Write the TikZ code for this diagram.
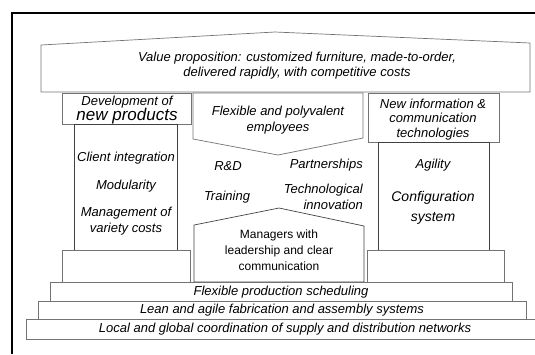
\documentclass[tikz,border=0pt]{standalone}
\usepackage{fontspec}
\setmainfont{Liberation Sans}
\begin{document}
\begin{tikzpicture}[x=1pt,y=-1pt,
  shapeline/.style={draw=black!55,line width=0.7pt},
  colline/.style={draw=black!75,line width=0.7pt},
  txt/.style={font=\fontsize{13}{15.5}\selectfont\itshape,align=center,inner sep=0pt},
  bigtxt/.style={font=\fontsize{14}{17}\selectfont\itshape,align=center,inner sep=0pt},
  uptxt/.style={font=\fontsize{12}{16}\selectfont,align=center,inner sep=0pt}]
\useasboundingbox (0,0) rectangle (535,354);
% frame
\draw[line width=2.5pt] (12,354) -- (12,13) -- (535,13);
% roof
\draw[shapeline] (41,92) -- (41,45) -- (275,32) -- (530,43) -- (530,92) -- cycle;
% left pillar
\draw[shapeline] (62,93) rectangle (191,124);
\draw[colline] (74,124) rectangle (177,250);
\draw[shapeline] (62,250) rectangle (190,282);
% right pillar
\draw[shapeline] (368,93) rectangle (499,142);
\draw[colline] (378,142) rectangle (489,250);
\draw[shapeline] (367,250) rectangle (504,282);
% central pentagons
\draw[shapeline] (193,93) -- (363,93) -- (363,138) -- (278,155) -- (193,139) -- cycle;
\draw[colline] (194,282) -- (194,225) -- (279,208) -- (364,226) -- (364,282) -- cycle;
% steps
\draw[shapeline] (50,282) rectangle (512,301);
\draw[shapeline] (38,301) rectangle (526,319);
\draw[shapeline] (26,319) rectangle (545,339);
% texts
\node[txt] (vp) at (297,65.5) {Value proposition: customized furniture, made-to-order,\\delivered rapidly, with competitive costs};
\node[txt] (dev) at (127,102) {Development of};
\node[bigtxt,font=\fontsize{17}{17}\selectfont\itshape] (np) at (127,116) {new products};
\node[txt,font=\fontsize{13}{16}\selectfont\itshape] (flex) at (278,120) {Flexible and polyvalent\\employees};
\node[txt,font=\fontsize{13}{14.5}\selectfont\itshape] (ict) at (433,119.5) {New information \&\\communication\\technologies};
\node[txt] (ci) at (126,158) {Client integration};
\node[txt] (mod) at (126,186) {Modularity};
\node[txt,font=\fontsize{13}{16}\selectfont\itshape] (mvc) at (126,221) {Management of\\variety costs};
\node[txt] (rd) at (228,166) {R\&D};
\node[txt,anchor=east] (part) at (363,165) {Partnerships};
\node[txt] (tr) at (227,197) {Training};
\node[txt,align=right,anchor=east,font=\fontsize{13}{16}\selectfont\itshape] (ti) at (363,197) {Technological\\innovation};
\node[txt] (ag) at (433,165) {Agility};
\node[bigtxt,font=\fontsize{14}{20}\selectfont\itshape] (cs) at (433,208) {Configuration\\system};
\node[uptxt] (mgr) at (279,250) {Managers with\\leadership and clear\\communication};
\node[txt] (s1) at (281,292) {Flexible production scheduling};
\node[txt] (s2) at (282,310.5) {Lean and agile fabrication and assembly systems};
\node[txt] (s3) at (285,329.5) {Local and global coordination of supply and distribution networks};
\end{tikzpicture}
\end{document}
